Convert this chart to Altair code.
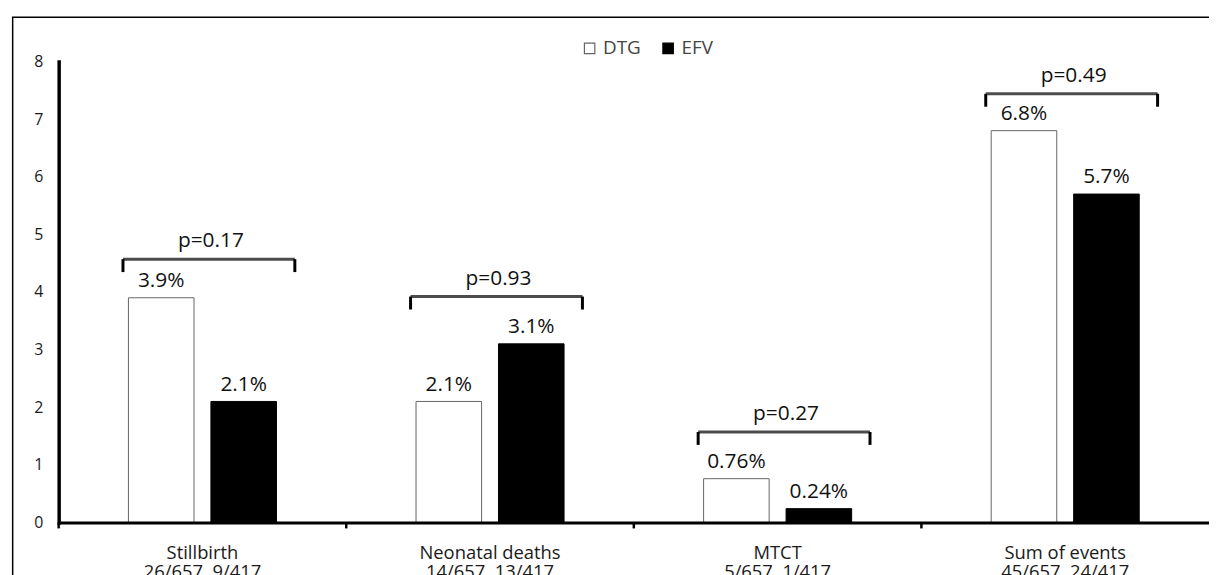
import altair as alt
import pandas as pd

categories = ["Stillbirth", "Neonatal deaths", "MTCT", "Sum of events"]
counts = ["26/657, 9/417", "14/657, 13/417", "5/657, 1/417", "45/657, 24/417"]
groups = ["DTG", "EFV"]
dtg_values = [3.9, 2.1, 0.76, 6.8]
efv_values = [2.1, 3.1, 0.24, 5.7]
dtg_labels = ["3.9%", "2.1%", "0.76%", "6.8%"]
efv_labels = ["2.1%", "3.1%", "0.24%", "5.7%"]
p_labels = ["p=0.17", "p=0.93", "p=0.27", "p=0.49"]
bracket_levels = [4.57, 3.92, 1.57, 7.44]
y_ticks = [0, 1, 2, 3, 4, 5, 6, 7, 8]

FONT = "Open Sans"

rows = []
for c, v, l in zip(categories, dtg_values, dtg_labels):
    rows.append({"category": c, "group": "DTG", "value": v, "label": l})
for c, v, l in zip(categories, efv_values, efv_labels):
    rows.append({"category": c, "group": "EFV", "value": v, "label": l})
bars_df = pd.DataFrame(rows)
br_df = pd.DataFrame({"category": categories, "level": bracket_levels, "p": p_labels})
cat_df = pd.DataFrame({"category": categories})

cat_js = "[" + ",".join('"%s"' % c for c in categories) + "]"
cnt_js = "[" + ",".join('"%s"' % c for c in counts) + "]"
label_expr = "[datum.label, %s[indexof(%s, datum.label)]]" % (cnt_js, cat_js)

x_scale = alt.Scale(paddingInner=0, paddingOuter=0)
y_scale = alt.Scale(domain=[0, 8], nice=False)

x_axis = alt.Axis(title=None, ticks=False, domainColor="black", domainWidth=3,
                  labelFont=FONT, labelFontSize=18.5, labelColor="#1a1a1a",
                  labelPadding=21, labelLineHeight=19, labelExpr=label_expr,
                  labelAngle=0, zindex=1)
y_axis = alt.Axis(title=None, values=y_ticks, format="d", ticks=False, grid=False,
                  domainColor="black", domainWidth=3.5, domainCap="square",
                  labelFont=FONT, labelFontSize=16, labelColor="#1a1a1a",
                  labelPadding=16, zindex=1)

X = alt.X("category:N", sort=categories, scale=x_scale, axis=x_axis)
XO = alt.XOffset("group:N", sort=groups,
                 scale=alt.Scale(paddingInner=0.205, paddingOuter=0.846))
Y = alt.Y("value:Q", scale=y_scale, axis=y_axis)

frame = alt.Chart(alt.Data(values=[{}])).mark_rect(
    fillOpacity=0, stroke="black", strokeWidth=1.5
).encode(x=alt.value(-46.3), x2=alt.value(1500), y=alt.value(-44.5), y2=alt.value(900))

bars = alt.Chart(bars_df).mark_bar(strokeWidth=1).encode(
    x=X, xOffset=XO, y=Y,
    fill=alt.Fill("group:N", sort=groups,
                  scale=alt.Scale(domain=groups, range=["white", "black"]),
                  legend=alt.Legend(title=None, orient="none", direction="horizontal",
                                    legendX=525, legendY=-23, symbolType="square",
                                    symbolSize=110, symbolStrokeColor="#555555",
                                    symbolStrokeWidth=1.2, labelFont=FONT,
                                    labelFontSize=19, labelColor="#444444",
                                    labelOffset=4, columnPadding=17, padding=0)),
    stroke=alt.Stroke("group:N", sort=groups,
                      scale=alt.Scale(domain=groups, range=["#666666", "black"]),
                      legend=None),
)

value_text = alt.Chart(bars_df).mark_text(
    font=FONT, fontSize=21, color="#111111", dy=-17, baseline="middle"
).encode(x=X, xOffset=XO, y=Y, text="label:N")

LEFT, RIGHT, LEG = -80, 93, 13
bracket_top = alt.Chart(br_df).mark_tick(
    orient="horizontal", size=RIGHT - LEFT, thickness=3, color="black",
    xOffset=(RIGHT + LEFT) / 2
).encode(x=alt.X("category:N", sort=categories), y=alt.Y("level:Q"))
leg_left = alt.Chart(br_df).mark_rule(strokeWidth=3, color="black", xOffset=LEFT,
                                      y2Offset=LEG).encode(
    x=alt.X("category:N", sort=categories), y=alt.Y("level:Q"), y2="level:Q")
leg_right = alt.Chart(br_df).mark_rule(strokeWidth=3, color="black", xOffset=RIGHT,
                                       y2Offset=LEG).encode(
    x=alt.X("category:N", sort=categories), y=alt.Y("level:Q"), y2="level:Q")
p_text = alt.Chart(br_df).mark_text(
    font=FONT, fontSize=21, color="#111111", dy=-18, baseline="middle",
    xOffset=(RIGHT + LEFT) / 2 + 2
).encode(x=alt.X("category:N", sort=categories), y=alt.Y("level:Q"), text="p:N")

sep_ticks = alt.Chart(cat_df).mark_rule(strokeWidth=2.5, color="black").encode(
    x=alt.X("category:N", sort=categories, bandPosition=0),
    y=alt.value(464), y2=alt.value(470))

chart = alt.layer(frame, bars, value_text, bracket_top, leg_left, leg_right,
                  p_text, sep_ticks).properties(
    width=1158, height=464,
    autosize=alt.AutoSizeParams(type="none"),
    padding={"left": 51, "top": 52, "right": 0, "bottom": 51},
    background="white",
).configure_view(stroke=None)

chart.save("out.html", embed_options={"renderer": "svg", "actions": False})
